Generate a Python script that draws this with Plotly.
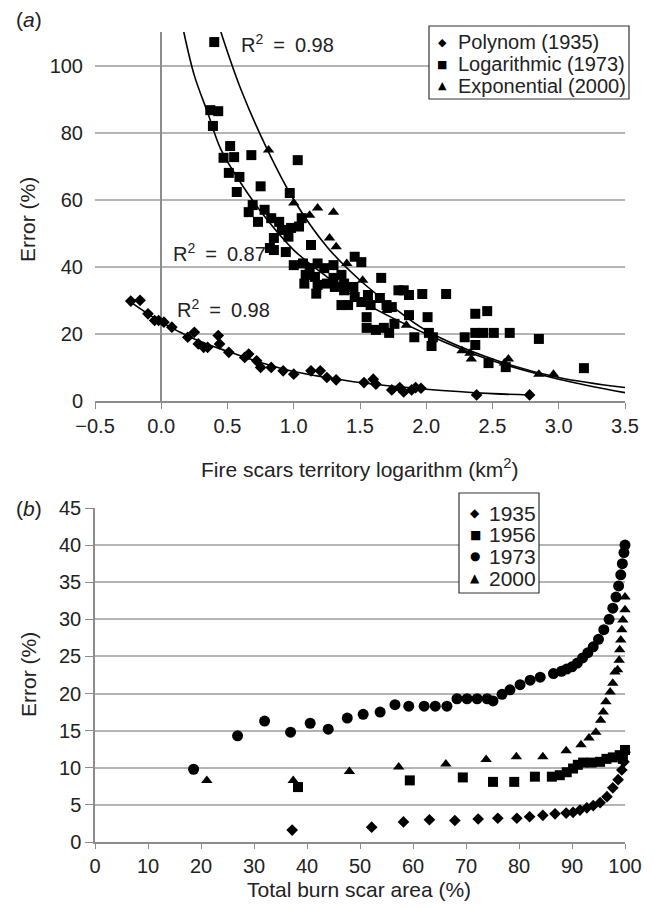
import plotly.graph_objects as go

# ---- panel (a): error vs log of fire scar territory ----
poly_x = [-0.23, -0.16, -0.10, -0.05, -0.02, 0.02, 0.08, 0.20, 0.25, 0.28, 0.32, 0.35,
          0.43, 0.44, 0.51, 0.63, 0.66, 0.72, 0.75, 0.83, 0.92, 1.00, 1.13, 1.20, 1.25,
          1.32, 1.53, 1.60, 1.62, 1.74, 1.80, 1.83, 1.89, 1.92, 1.96, 2.38, 2.78]
poly_y = [29.8, 30.0, 26.0, 24.0, 24.0, 23.5, 22.0, 19.0, 20.5, 17.0, 16.0, 16.0,
          19.5, 17.0, 14.5, 13.0, 14.0, 12.0, 10.0, 10.0, 9.0, 8.0, 9.0, 9.0, 7.0,
          6.3, 5.5, 6.5, 5.0, 3.3, 4.0, 2.7, 3.3, 4.0, 3.8, 1.8, 1.8]

log_x = [0.40, 0.37, 0.43, 0.39, 0.52, 0.47, 0.55, 0.68, 1.03, 0.51, 0.59, 0.57, 0.75,
         0.97, 0.69, 0.66, 0.78, 0.73, 0.83, 0.89, 0.91, 0.98, 1.04, 1.06, 0.96, 0.85,
         0.82, 0.85, 0.94, 1.13, 1.00, 1.07, 1.12, 1.18, 1.23, 1.09, 1.16, 1.08, 1.18,
         1.25, 1.30, 1.31, 1.36, 1.46, 1.51, 1.30, 1.38, 1.66, 1.17, 1.38, 1.46, 1.56,
         1.36, 1.41, 1.51, 1.58, 1.65, 1.74, 1.79, 1.45, 1.55, 1.55, 1.62, 1.68, 1.72,
         1.76, 1.70, 1.83, 1.87, 1.97, 2.15, 1.87, 1.91, 2.01, 2.02, 2.05, 2.04, 2.29,
         2.37, 2.46, 2.37, 2.43, 2.51, 2.63, 2.85, 2.37, 2.47, 2.60, 3.19]
log_y = [107, 86.7, 86.4, 82, 76, 72.5, 72.7, 73.3, 71.8, 68, 66.8, 62.3, 64,
         62, 58.4, 56.3, 57, 53.4, 54.5, 53.4, 51, 51.6, 52, 54.5, 49, 48.6,
         45.6, 45, 44.4, 46.5, 40.5, 41, 39.6, 41, 39.6, 37.6, 37, 35, 34.6,
         35, 36.7, 34, 37.6, 43, 41.4, 40.5, 35, 36.7, 32, 33, 31, 31.6,
         28.6, 28.6, 29.5, 28.6, 30.7, 28, 33, 34, 25, 21.8, 21.2, 21.8, 20.3,
         23, 28.6, 33, 31.6, 31.9, 31.9, 25.6, 19, 25, 20.3, 19, 16.4, 19,
         26, 26.8, 20.3, 20.3, 20.3, 20.3, 18.5, 16.7, 11.3, 10.1, 9.8]

exp_x = [0.81, 1.00, 1.12, 1.18, 1.30, 1.27, 1.32, 1.40, 1.52, 1.70, 1.85, 2.27,
         2.33, 2.34, 2.59, 2.62, 2.85, 2.96]
exp_y = [74.8, 59, 55.4, 57.5, 56.3, 48.6, 46, 41, 36, 27, 22.6, 15,
         14.2, 12.5, 11.3, 12.5, 8, 8]

# trend lines
poly_fit_x = [-0.23, 0.0, 0.25, 0.5, 0.75, 1.0, 1.25, 1.5, 2.0, 2.5, 2.78]
poly_fit_y = [29.5, 23.5, 18.5, 14.8, 11.5, 8.8, 7.0, 5.5, 3.5, 2.2, 1.8]
log_fit_x = [0.17, 0.25, 0.35, 0.45, 0.6, 0.8, 1.0, 1.25, 1.5, 2.0, 2.5, 3.0, 3.5]
log_fit_y = [110, 97, 86, 75, 65, 54, 45, 37, 30, 20, 12, 6.5, 2.5]
exp_fit_x = [0.45, 0.6, 0.8, 1.0, 1.25, 1.5, 1.75, 2.0, 2.5, 3.0, 3.5]
exp_fit_y = [110, 93, 75, 60, 46, 36, 28, 21, 12.5, 7, 4]

# ---- panel (b): error vs total burn scar area ----
b1935_x = [37.2, 52.2, 58.2, 63.1, 67.9, 72.3, 76.0, 79.6, 82.0, 84.5, 86.8, 88.9, 90.2,
           91.5, 92.8, 94.0, 95.3, 96.6, 97.7, 98.7, 99.4, 99.8, 100.0]
b1935_y = [1.6, 2.0, 2.7, 3.0, 2.9, 3.1, 3.2, 3.2, 3.4, 3.6, 3.8, 3.9, 4.0,
           4.3, 4.6, 4.9, 5.3, 6.1, 7.3, 8.4, 9.7, 10.8, 12.1]

b1956_x = [38.3, 59.4, 69.4, 75.1, 79.1, 83.0, 86.2, 87.7, 89.0, 90.2, 91.1, 92.1, 93.7,
           95.3, 96.5, 97.7, 99.0, 99.6, 100.0]
b1956_y = [7.4, 8.3, 8.7, 8.1, 8.1, 8.8, 8.8, 9.0, 9.4, 9.9, 10.4, 10.7, 10.7,
           10.8, 11.2, 11.4, 11.7, 11.2, 12.4]

b1973_x = [18.6, 26.9, 32.0, 36.9, 40.6, 44.0, 47.6, 50.6, 53.8, 56.6, 59.2, 62.1, 64.2,
           66.4, 68.3, 70.2, 72.1, 74.0, 75.1, 76.8, 78.3, 80.2, 82.1, 84.0, 86.5, 88.0,
           89.0, 90.0, 91.0, 92.0, 93.0, 94.0, 95.0, 96.0, 97.0, 97.7, 98.3, 98.8, 99.2,
           99.5, 99.8, 100.0]
b1973_y = [9.8, 14.3, 16.3, 14.8, 16.0, 15.2, 16.7, 17.2, 17.5, 18.5, 18.3, 18.3, 18.3,
           18.3, 19.3, 19.3, 19.3, 19.3, 19.0, 19.9, 20.5, 21.2, 21.8, 22.2, 22.7, 23.0,
           23.3, 23.6, 24.1, 24.8, 25.5, 26.3, 27.3, 28.6, 30.0, 31.5, 33.0, 34.5, 36.0,
           37.5, 39.0, 40.0]

b2000_x = [21.1, 37.4, 48.0, 57.3, 66.2, 73.8, 79.5, 84.5, 88.9, 91.7, 93.2, 94.5, 95.4,
           95.9, 96.4, 97.2, 97.7, 98.1, 98.6, 98.9, 99.0, 99.2, 99.4, 99.6, 100.0, 100.0]
b2000_y = [8.3, 8.3, 9.5, 10.1, 10.5, 11.1, 11.5, 11.5, 12.3, 13.1, 14.0, 14.8, 16.4,
           17.5, 18.9, 20.2, 21.4, 22.9, 23.2, 24.5, 25.9, 27.2, 28.6, 29.9, 31.3, 33.0]

legend_a = ["Polynom (1935)", "Logarithmic (1973)", "Exponential (2000)"]
legend_b = ["1935", "1956", "1973", "2000"]

FONT = "Liberation Sans, Arial, sans-serif"
GRID = "#b4b4b4"
AXIS = "#8c8c8c"
TXT = "#222"

# the page body adds an 8px margin, so the figure is sized to fit inside it
OFF = 8
W, H = 653 - 2 * OFF, 909 - 2 * OFF
# plot area in page pixels: x 95..625, y 32..842
L, R, T, B = 95 - OFF, 625 - OFF, 32 - OFF, 842 - OFF


def px(xp):
    return (xp - OFF - L) / (R - L)


def py(yp):
    return (B - (yp - OFF)) / (B - T)


fig = go.Figure()

# panel (a) markers
fig.add_trace(go.Scatter(x=poly_x, y=poly_y, mode="markers", name=legend_a[0],
                         marker=dict(symbol="diamond", size=9, color="black"),
                         xaxis="x", yaxis="y"))
fig.add_trace(go.Scatter(x=log_x, y=log_y, mode="markers", name=legend_a[1],
                         marker=dict(symbol="square", size=10, color="black"),
                         xaxis="x", yaxis="y"))
fig.add_trace(go.Scatter(x=exp_x, y=exp_y, mode="markers", name=legend_a[2],
                         marker=dict(symbol="triangle-up", size=10, color="black"),
                         xaxis="x", yaxis="y"))

# trend lines
for fx, fy in [(poly_fit_x, poly_fit_y), (log_fit_x, log_fit_y), (exp_fit_x, exp_fit_y)]:
    fig.add_trace(go.Scatter(x=fx, y=fy, mode="lines",
                             line=dict(color="black", width=1.6, shape="spline"),
                             xaxis="x", yaxis="y", hoverinfo="skip"))

# panel (b) markers
for bx, by, name, sym, size in [(b1935_x, b1935_y, legend_b[0], "diamond", 9),
                                (b1956_x, b1956_y, legend_b[1], "square", 10),
                                (b1973_x, b1973_y, legend_b[2], "circle", 11),
                                (b2000_x, b2000_y, legend_b[3], "triangle-up", 10)]:
    fig.add_trace(go.Scatter(x=bx, y=by, mode="markers", name=name, cliponaxis=False,
                             marker=dict(symbol=sym, size=size, color="black"),
                             xaxis="x2", yaxis="y2"))

tickfont = dict(family=FONT, size=20, color=TXT)

fig.update_layout(
    width=W, height=H,
    margin=dict(l=L, r=W - R, t=T, b=H - B, autoexpand=False),
    paper_bgcolor="white", plot_bgcolor="white",
    font=dict(family=FONT, size=20, color=TXT),
    showlegend=False,
    xaxis=dict(domain=[0, 1], anchor="y", range=[-0.5, 3.5], dtick=0.5, tickformat=".1f",
               showgrid=False, showline=True, linecolor=AXIS, linewidth=1.5,
               ticks="outside", ticklen=6, tickcolor=AXIS, tickfont=tickfont,
               zeroline=True, zerolinecolor=AXIS, zerolinewidth=1.5),
    yaxis=dict(domain=[py(401), 1], anchor="x", range=[0, 110], tickvals=[0, 20, 40, 60, 80, 100],
               showgrid=True, gridcolor=GRID, gridwidth=1.5, zeroline=False,
               showline=False, ticks="", ticklabelstandoff=11, tickfont=tickfont),
    xaxis2=dict(domain=[0, 1], anchor="y2", range=[0, 100], dtick=10,
                showgrid=False, showline=True, linecolor=AXIS, linewidth=1.5,
                ticks="outside", ticklen=5, tickcolor=AXIS, tickfont=tickfont, zeroline=False),
    yaxis2=dict(domain=[0, py(508)], anchor="x2", range=[0, 45], dtick=5,
                showgrid=True, gridcolor=GRID, gridwidth=1.5, zeroline=False,
                showline=True, linecolor=AXIS, linewidth=1.5,
                ticks="outside", ticklen=8, tickcolor=AXIS, tickfont=tickfont),
)

EQ = "\u2002=\u2002"
annotations = [
    dict(text="R<sup>2</sup>" + EQ + "0.98", x=0.589, y=106.7, xref="x", yref="y",
         xanchor="left", yanchor="middle", showarrow=False, font=dict(size=20)),
    dict(text="R<sup>2</sup>" + EQ + "0.87", x=0.075, y=44.4, xref="x", yref="y",
         xanchor="left", yanchor="middle", showarrow=False, font=dict(size=20)),
    dict(text="R<sup>2</sup>" + EQ + "0.98", x=0.106, y=27.7, xref="x", yref="y",
         xanchor="left", yanchor="middle", showarrow=False, font=dict(size=20)),
    dict(text="(<i>a</i>)", x=px(14), y=py(20), xref="paper", yref="paper",
         xanchor="left", yanchor="middle", showarrow=False, font=dict(size=21)),
    dict(text="(<i>b</i>)", x=px(14), y=py(508), xref="paper", yref="paper",
         xanchor="left", yanchor="middle", showarrow=False, font=dict(size=21)),
    dict(text="Fire scars territory logarithm (km<sup>2</sup>)", x=px(359), y=py(468),
         xref="paper", yref="paper", xanchor="center", yanchor="middle",
         showarrow=False, font=dict(size=21)),
    dict(text="Total burn scar area (%)", x=px(359), y=py(889),
         xref="paper", yref="paper", xanchor="center", yanchor="middle",
         showarrow=False, font=dict(size=21)),
    dict(text="Error (%)", x=px(28), y=py(220), xref="paper", yref="paper",
         xanchor="center", yanchor="middle", textangle=-90, showarrow=False, font=dict(size=21)),
    dict(text="Error (%)", x=px(28), y=py(675), xref="paper", yref="paper",
         xanchor="center", yanchor="middle", textangle=-90, showarrow=False, font=dict(size=21)),
]

# legend boxes drawn as shapes with symbol + label annotations
shapes = [
    dict(type="rect", xref="paper", yref="paper", x0=px(429), x1=px(629), y0=py(99), y1=py(26),
         line=dict(color="#333", width=1.2), fillcolor="white", layer="above"),
    dict(type="rect", xref="paper", yref="paper", x0=px(459), x1=px(539), y0=py(593), y1=py(493),
         line=dict(color="#333", width=1.2), fillcolor="white", layer="above"),
]
symbols_a = ["\u25c6", "\u25a0", "\u25b2"]
for i, (sym, lab) in enumerate(zip(symbols_a, legend_a)):
    yc = py(42 + i * 22)
    annotations.append(dict(text=sym, x=px(442), y=yc, xref="paper", yref="paper",
                            xanchor="center", yanchor="middle", showarrow=False,
                            font=dict(family="DejaVu Sans", size=11, color="black")))
    annotations.append(dict(text=lab, x=px(456), y=yc, xref="paper", yref="paper",
                            xanchor="left", yanchor="middle", showarrow=False,
                            font=dict(size=20)))
symbols_b = ["\u25c6", "\u25a0", "\u25cf", "\u25b2"]
for i, (sym, lab) in enumerate(zip(symbols_b, legend_b)):
    yc = py(513 + i * 21.7)
    annotations.append(dict(text=sym, x=px(475), y=yc, xref="paper", yref="paper",
                            xanchor="center", yanchor="middle", showarrow=False,
                            font=dict(family="DejaVu Sans", size=12, color="black")))
    annotations.append(dict(text=lab, x=px(487), y=yc, xref="paper", yref="paper",
                            xanchor="left", yanchor="middle", showarrow=False,
                            font=dict(size=21)))

fig.update_layout(annotations=annotations, shapes=shapes)

fig.write_html("out.html")
